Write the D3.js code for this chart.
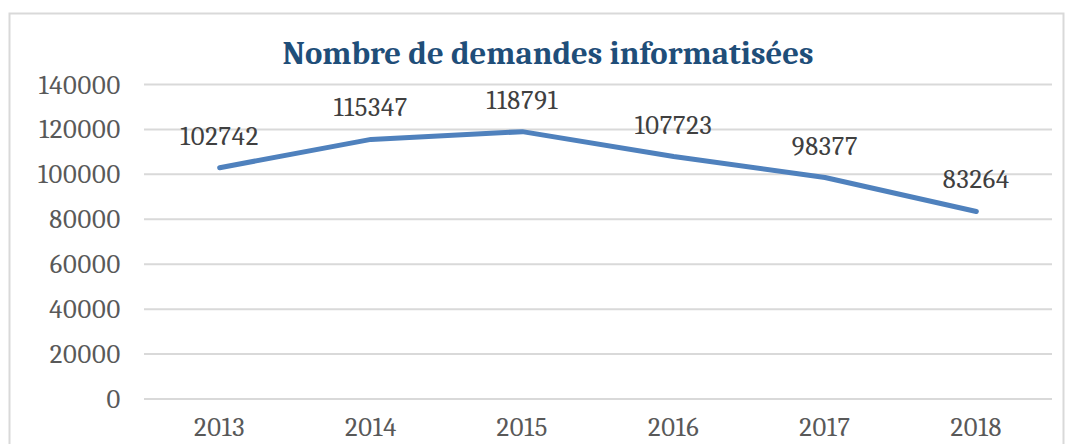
<!DOCTYPE html>
<html>
<head>
<meta charset="utf-8">
<script src="https://cdn.jsdelivr.net/npm/d3@7"></script>
<style>
  body { margin: 0; background: #fff; }
  svg { display: block; }
</style>
</head>
<body>
<svg id="chart"></svg>
<script>
// values
const years = ["2013", "2014", "2015", "2016", "2017", "2018"];
const demandes = [102742, 115347, 118791, 107723, 98377, 83264];
const yTicks = [0, 20000, 40000, 60000, 80000, 100000, 120000, 140000];
const title = "Nombre de demandes informatisées";

const width = 1074, height = 444;
const margin = { top: 84, right: 22, bottom: 45.5, left: 144 };
const innerW = width - margin.left - margin.right;
const innerH = height - margin.top - margin.bottom;
const font = "Cambria, 'Liberation Serif', 'DejaVu Serif', serif";
const fsize = "26.5px";
const spacing = "0.8px";

const svg = d3.select("#chart")
    .attr("width", width)
    .attr("height", height);

// outer frame
svg.append("rect")
    .attr("x", 9.5).attr("y", 13.5)
    .attr("width", 1054).attr("height", 440)
    .attr("fill", "#fff")
    .attr("stroke", "#d9d9d9")
    .attr("stroke-width", 2);

const chart = svg.append("g")
    .attr("transform", `translate(${margin.left}, ${margin.top})`);

const xscale = d3.scaleBand()
    .domain(years)
    .range([0, innerW]);

const yscale = d3.scaleLinear()
    .domain([0, 140000])
    .range([innerH, 0]);

// gridlines + y labels
const yaxis = d3.axisLeft(yscale)
    .tickValues(yTicks)
    .tickSize(-innerW)
    .tickPadding(23)
    .tickFormat(d3.format("d"));

const yg = chart.append("g").call(yaxis);
yg.select(".domain").remove();
yg.selectAll(".tick line")
    .attr("stroke", "#d9d9d9")
    .attr("stroke-width", 2);
yg.selectAll(".tick text")
    .attr("fill", "#595959")
    .attr("dy", "0.34em")
    .style("font-family", font)
    .style("font-size", fsize)
    .style("letter-spacing", spacing);

// x labels
const xaxis = d3.axisBottom(xscale)
    .tickSize(0)
    .tickPadding(19);

const xg = chart.append("g")
    .attr("transform", `translate(0, ${innerH})`)
    .call(xaxis);
xg.select(".domain").remove();
xg.selectAll(".tick text")
    .attr("fill", "#595959")
    .style("font-family", font)
    .style("font-size", fsize)
    .style("letter-spacing", spacing);

const cx = d => xscale(d) + xscale.bandwidth() / 2;

const line = d3.line()
    .x((d, i) => cx(years[i]))
    .y(d => yscale(d));

chart.append("path")
    .datum(demandes)
    .attr("d", line)
    .attr("fill", "none")
    .attr("stroke", "#4f81bd")
    .attr("stroke-width", 5)
    .attr("stroke-linejoin", "round")
    .attr("stroke-linecap", "round");

// data labels
chart.selectAll(".lbl")
    .data(demandes)
    .join("text")
    .attr("class", "lbl")
    .attr("x", (d, i) => cx(years[i]))
    .attr("y", d => yscale(d) - 23)
    .attr("text-anchor", "middle")
    .attr("fill", "#404040")
    .style("font-family", font)
    .style("font-size", fsize)
    .style("letter-spacing", spacing)
    .text(d => d);

svg.append("text")
    .attr("x", 548)
    .attr("y", 64)
    .attr("text-anchor", "middle")
    .attr("fill", "#1f4e79")
    .attr("textLength", 531)
    .attr("lengthAdjust", "spacingAndGlyphs")
    .style("font-family", font)
    .style("font-size", "32px")
    .style("font-weight", "bold")
    .text(title);
</script>
</body>
</html>
